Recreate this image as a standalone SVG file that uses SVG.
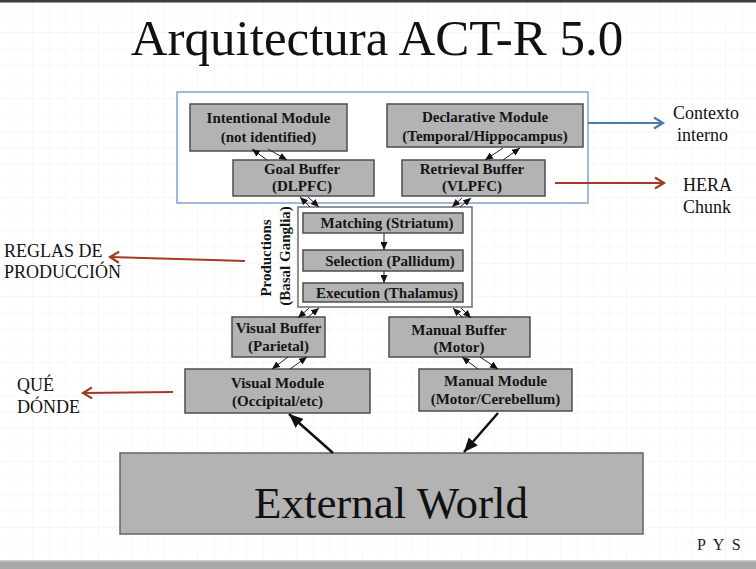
<svg xmlns="http://www.w3.org/2000/svg" width="756" height="569" viewBox="0 0 756 569">
<defs>
<pattern id="grid" width="16.5" height="16.5" patternUnits="userSpaceOnUse">
<path d="M16.5 0V16.5M0 16.5H16.5" fill="none" stroke="#f1f1f1" stroke-width="1"/>
</pattern>
<marker id="ah" markerUnits="userSpaceOnUse" markerWidth="9" markerHeight="7" refX="8" refY="3.5" orient="auto">
<path d="M0,0 L8,3.5 L0,7 z" fill="#111"/>
</marker>
<marker id="big" markerUnits="userSpaceOnUse" markerWidth="16" markerHeight="12" refX="14" refY="6" orient="auto">
<path d="M0,0 L14,6 L0,12 z" fill="#111"/>
</marker>
<marker id="red" markerUnits="userSpaceOnUse" markerWidth="14" markerHeight="14" refX="11" refY="7" orient="auto">
<path d="M2,1.5 L11,7 L2,12.5" fill="none" stroke="#a33a24" stroke-width="2.2"/>
</marker>
<marker id="blue" markerUnits="userSpaceOnUse" markerWidth="14" markerHeight="14" refX="11" refY="7" orient="auto">
<path d="M2,1.5 L11,7 L2,12.5" fill="none" stroke="#4a7bb3" stroke-width="2.2"/>
</marker>
</defs>
<style>
.box{fill:#b3b3b3;stroke:#4d4d4d;stroke-width:1.5}
.bt{font-family:"Liberation Serif",serif;font-weight:bold;font-size:15px;fill:#151515;text-anchor:middle}
.lbl{font-family:"Liberation Serif",serif;font-size:18px;fill:#111}
.c{fill:none;stroke:#222;stroke-width:1;marker-end:url(#ah)}
.bigc{fill:none;stroke:#111;stroke-width:2.5;marker-end:url(#big)}
.rc{fill:none;stroke:#a33a24;stroke-width:2;marker-end:url(#red)}
</style>
<rect width="756" height="569" fill="#ffffff"/>
<rect width="756" height="569" fill="url(#grid)"/>
<rect x="0" y="0" width="756" height="2.5" fill="#3c3c3c"/>
<rect x="0" y="561" width="756" height="8" fill="#a9a9a9"/>
<rect x="0" y="560" width="756" height="1.5" fill="#d0d0d0"/>

<text x="377" y="55" font-family="Liberation Serif, serif" font-size="51" fill="#111" text-anchor="middle">Arquitectura ACT-R 5.0</text>

<g id="contexto-box">
<rect x="177" y="92" width="411" height="111" fill="#ffffff" stroke="#7fa3cd" stroke-width="1.5"/>
</g>

<g id="intentional">
<rect class="box" x="190" y="104" width="157" height="47"/>
<text class="bt" x="268.5" y="123">Intentional Module</text>
<text class="bt" x="268.5" y="142">(not identified)</text>
</g>
<g id="declarative">
<rect class="box" x="387" y="104" width="196" height="43"/>
<text class="bt" x="485" y="122">Declarative Module</text>
<text class="bt" x="485" y="141">(Temporal/Hippocampus)</text>
</g>
<g id="goal">
<rect class="box" x="233" y="160" width="141" height="36"/>
<text class="bt" x="302" y="174">Goal Buffer</text>
<text class="bt" x="302" y="191">(DLPFC)</text>
</g>
<g id="retrieval">
<rect class="box" x="402" y="160" width="143" height="36"/>
<text class="bt" x="472" y="174">Retrieval Buffer</text>
<text class="bt" x="472" y="191">(VLPFC)</text>
</g>

<g id="productions">
<rect x="298" y="207" width="174" height="100" fill="#ffffff" stroke="#6e6e6e" stroke-width="1.5"/>
<text class="bt" transform="translate(271,258) rotate(-90)">Productions</text>
<text class="bt" transform="translate(290,256) rotate(-90)">(Basal Ganglia)</text>
</g>
<g id="matching">
<rect class="box" x="303" y="213" width="160" height="20"/>
<text class="bt" x="387" y="228">Matching (Striatum)</text>
</g>
<g id="selection">
<rect class="box" x="303" y="250" width="160" height="21"/>
<text class="bt" x="390" y="266">Selection (Pallidum)</text>
</g>
<g id="execution">
<rect class="box" x="303" y="283" width="160" height="19"/>
<text class="bt" x="387" y="298">Execution (Thalamus)</text>
</g>

<g id="visual-buffer">
<rect class="box" x="232" y="317" width="93" height="40"/>
<text class="bt" x="278.5" y="333">Visual Buffer</text>
<text class="bt" x="278.5" y="351">(Parietal)</text>
</g>
<g id="manual-buffer">
<rect class="box" x="389" y="317" width="141" height="40"/>
<text class="bt" x="459" y="335">Manual Buffer</text>
<text class="bt" x="459" y="352">(Motor)</text>
</g>
<g id="visual-module">
<rect class="box" x="185" y="369" width="185" height="44"/>
<text class="bt" x="277.5" y="388">Visual Module</text>
<text class="bt" x="277.5" y="406">(Occipital/etc)</text>
</g>
<g id="manual-module">
<rect class="box" x="419" y="369" width="153" height="42"/>
<text class="bt" x="495.5" y="386">Manual Module</text>
<text class="bt" x="495.5" y="404">(Motor/Cerebellum)</text>
</g>

<g id="external-world">
<rect x="120" y="453" width="523" height="81" fill="#b3b3b3" stroke="#666" stroke-width="1.5"/>
<text x="391" y="518" font-family="Liberation Serif, serif" font-size="45" fill="#111" text-anchor="middle">External World</text>
</g>

<g id="connectors">
<path class="c" d="M267,160 L252,149"/>
<path class="c" d="M268,149 L287,160"/>
<path class="c" d="M503,148 L485,160"/>
<path class="c" d="M503,160 L520,148"/>
<path class="c" d="M310,207 L300,197"/>
<path class="c" d="M308,197 L319,207"/>
<path class="c" d="M462,198 L452,207"/>
<path class="c" d="M460,207 L471,198"/>
<path class="c" d="M309,308 L298,318"/>
<path class="c" d="M307,318 L319,308"/>
<path class="c" d="M463,318 L453,308"/>
<path class="c" d="M461,308 L471,318"/>
<path class="c" d="M288,357 L272,369"/>
<path class="c" d="M290,369 L307,357"/>
<path class="c" d="M478,369 L462,357"/>
<path class="c" d="M480,357 L498,369"/>
<path class="c" d="M384,233 L384,250"/>
<path class="c" d="M384,271 L384,283"/>
<path class="bigc" d="M333,453 L289,414"/>
<path class="bigc" d="M498,413 L464,452"/>
<path fill="none" stroke="#4a7bb3" stroke-width="2" marker-end="url(#blue)" d="M588,123 L663,123"/>
<path class="rc" d="M555,183 L664,183"/>
<path class="rc" d="M245,261 L110,257"/>
<path class="rc" d="M173,392 L83,393"/>
</g>

<g id="labels">
<text class="lbl" x="673" y="119">Contexto</text>
<text class="lbl" x="677" y="141">interno</text>
<text class="lbl" x="683" y="191">HERA</text>
<text class="lbl" x="683" y="213">Chunk</text>
<text class="lbl" x="4" y="257">REGLAS DE</text>
<text class="lbl" x="4" y="278">PRODUCCIÓN</text>
<text class="lbl" x="17" y="391">QUÉ</text>
<text class="lbl" x="17" y="413">DÓNDE</text>
<text x="697" y="550" font-family="Liberation Serif, serif" font-size="16" fill="#1b1b3a" letter-spacing="2">P Y S</text>
</g>
</svg>
